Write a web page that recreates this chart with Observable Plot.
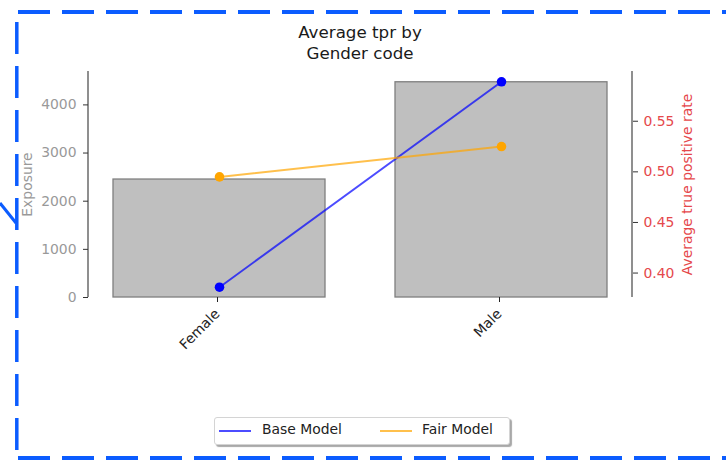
<!DOCTYPE html>
<html>
<head>
<meta charset="utf-8">
<script src="https://cdn.jsdelivr.net/npm/d3@7"></script>
<script src="https://cdn.jsdelivr.net/npm/@observablehq/plot@0.6"></script>
<style>
  html, body { margin: 0; padding: 0; background: #fff; }
  #wrap { position: relative; width: 726px; height: 460px; overflow: hidden; font-family: "DejaVu Sans", sans-serif; }
  #chart { position: absolute; left: 0; top: 0; }
  #title { position: absolute; left: 88px; width: 544px; top: 22px; text-align: center;
           font-size: 16.7px; line-height: 21px; color: #1a1a1a; }
  #legend { position: absolute; left: 214px; top: 417px; width: 294px; height: 26px;
            border: 1px solid #d4d4d4; border-radius: 3px; background: #fff;
            box-shadow: 2px 2px 1px #a8a8a8; font-size: 13.9px; color: #222; }
  .key { position: absolute; top: 12px; width: 32px; height: 2px; }
  .lab { position: absolute; top: 3px; white-space: nowrap; }
  #deco { position: absolute; left: 0; top: 0; pointer-events: none; }
</style>
</head>
<body>
<div id="wrap">
  <div id="chart"></div>
  <div id="title">Average tpr by<br>Gender code</div>
  <div id="legend"></div>
  <svg id="deco" width="726" height="460"></svg>
</div>
<script>
// Categories and per-group values
const categories = ["Female", "Male"];
const exposure = [2450, 4470];
const baseTpr = [0.386, 0.589];
const fairTpr = [0.495, 0.525];
const exposureTicks = [0, 1000, 2000, 3000, 4000];
const tprTicks = [0.40, 0.45, 0.50, 0.55];
const seriesNames = ["Base Model", "Fair Model"];
const seriesColors = ["#0000ff", "#ffa500"];

const rows = categories.map((c, i) => ({cat: c, exposure: exposure[i], base: baseTpr[i], fair: fairTpr[i]}));

// Left axis: exposure, 5% headroom above the tallest bar
const yMax = d3.max(exposure) * 1.05;
// Right axis: tpr range with 5% margins, mapped onto the exposure scale
const allTpr = baseTpr.concat(fairTpr);
const tLo = d3.min(allTpr), tHi = d3.max(allTpr), tPad = (tHi - tLo) * 0.05;
const toY = d3.scaleLinear().domain([tLo - tPad, tHi + tPad]).range([0, yMax]);

const W = 726, H = 460, mL = 88, mR = 94, mT = 71, mB = 163;
const axisDark = "#333";
const redTxt = "#e5484b";

const chart = Plot.plot({
  width: W, height: H,
  marginLeft: mL, marginRight: mR, marginTop: mT, marginBottom: mB,
  style: {fontFamily: "DejaVu Sans, sans-serif", fontSize: "13.9px", background: "transparent", overflow: "visible"},
  x: {type: "band", domain: categories, paddingInner: 0.25, paddingOuter: 0.0875, align: 0.5},
  y: {domain: [0, yMax]},
  marks: [
    Plot.barY(rows, {x: "cat", y: "exposure", fill: "#bfbfbf", stroke: "#7f7f7f", strokeWidth: 1.3}),
    Plot.line(rows, {x: "cat", y: d => toY(d.base), stroke: seriesColors[0], strokeOpacity: 0.7, strokeWidth: 2}),
    Plot.dot(rows, {x: "cat", y: d => toY(d.base), r: 4.8, fill: seriesColors[0]}),
    Plot.line(rows, {x: "cat", y: d => toY(d.fair), stroke: seriesColors[1], strokeOpacity: 0.7, strokeWidth: 2}),
    Plot.dot(rows, {x: "cat", y: d => toY(d.fair), r: 4.8, fill: seriesColors[1]}),
    // left axis: tick marks, then grey labels
    Plot.axisY({ticks: exposureTicks, tickSize: 5, tickFormat: () => "", color: axisDark, label: null}),
    Plot.axisY({ticks: exposureTicks, tickSize: 0, tickPadding: 12, tickFormat: d => String(d), color: "#999", label: null}),
    // right axis: tpr ticks placed through the mapping
    Plot.axisY({anchor: "right", ticks: tprTicks.map(toY), tickSize: 5, tickFormat: () => "", color: axisDark, label: null}),
    Plot.axisY({anchor: "right", ticks: tprTicks.map(toY), tickSize: 0, tickPadding: 11,
                tickFormat: v => toY.invert(v).toFixed(2), color: redTxt, label: null}),
    Plot.axisX({tickSize: 5, tickRotate: -45, tickPadding: 9, dx: -2, color: "#222", label: null}),
    Plot.text(["Exposure"], {text: d => d, frameAnchor: "left", textAnchor: "middle", dx: -61, rotate: -90, fill: "#999"}),
    Plot.text(["Average true positive rate"], {text: d => d, frameAnchor: "right", textAnchor: "middle", dx: 55, rotate: -90, fill: redTxt})
  ]
});
document.getElementById("chart").appendChild(chart);

// left and right spines
const svg = d3.select(chart);
[mL, W - mR].forEach(x => {
  svg.append("line").attr("x1", x).attr("x2", x).attr("y1", mT).attr("y2", H - mB)
    .attr("stroke", axisDark).attr("stroke-width", 1.1);
});

// legend
const legend = document.getElementById("legend");
const keyX = [4, 165], labX = [47, 207];
seriesNames.forEach((name, i) => {
  const k = document.createElement("div");
  k.className = "key"; k.style.left = keyX[i] + "px";
  k.style.background = seriesColors[i]; k.style.opacity = 0.7;
  legend.appendChild(k);
  const t = document.createElement("div");
  t.className = "lab"; t.style.left = labX[i] + "px"; t.textContent = name;
  legend.appendChild(t);
});

// dashed outline around the figure
const deco = d3.select("#deco");
const blue = "#0b5cff";
deco.append("path").attr("d", "M18,12H726").attr("stroke", blue).attr("stroke-width", 4).attr("stroke-dasharray", "32 12");
deco.append("path").attr("d", "M18,458H726").attr("stroke", blue).attr("stroke-width", 4).attr("stroke-dasharray", "32 12");
deco.append("path").attr("d", "M16.8,22V450").attr("stroke", blue).attr("stroke-width", 3.5).attr("stroke-dasharray", "32 12");
deco.append("path").attr("d", "M0,203L16,223").attr("stroke", blue).attr("stroke-width", 3);
</script>
</body>
</html>
